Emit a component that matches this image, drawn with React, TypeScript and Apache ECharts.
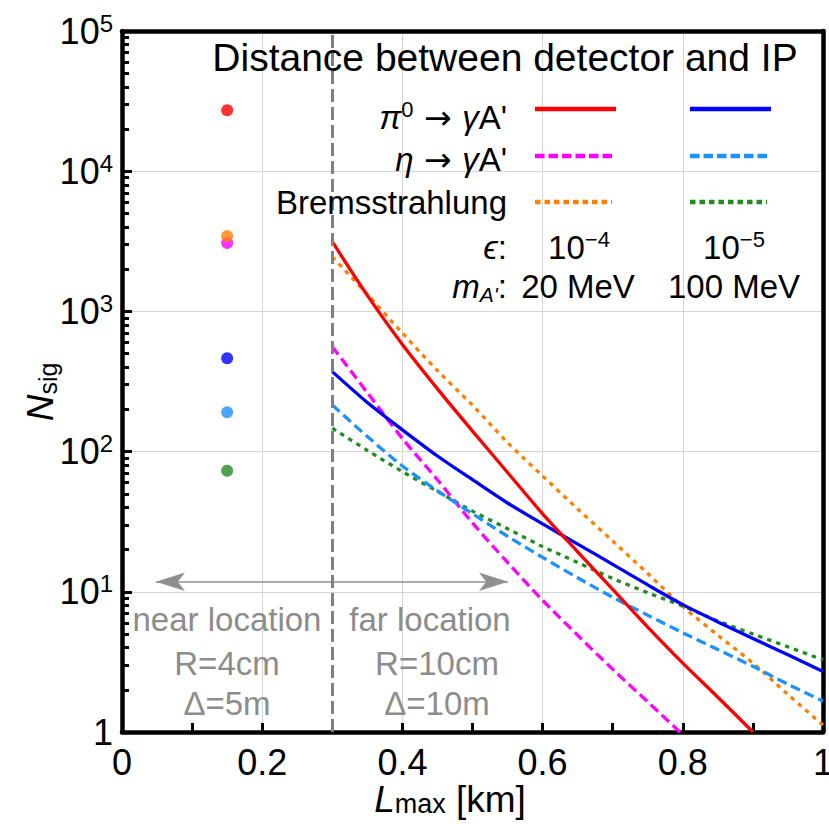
import React, { useEffect, useRef } from 'react';
import * as echarts from 'echarts';

const FONT = '"Liberation Sans", Arial, Helvetica, sans-serif';
const INK = '#000000';

// L_max [km] sample points for the far-location curves
const lMax = [0.3, 0.35, 0.4, 0.45, 0.5, 0.55, 0.6, 0.65, 0.7, 0.75, 0.8, 0.85, 0.9, 0.95, 1.0];
// m_A' = 20 MeV, eps = 1e-4
const pi0_20MeV = [3140, 1300, 580, 280, 140, 71, 36, 19.3, 10.4, 5.6, 3.1, 1.77, 1.0];
const eta_20MeV = [560, 263, 124, 63, 31, 16.2, 8.7, 4.9, 2.8, 1.64, 0.955];
const brems_20MeV = [2450, 1320, 700, 378, 214, 116, 67, 39, 23, 13.5, 7.85, 4.9, 3.1, 1.85, 1.12];
// m_A' = 100 MeV, eps = 1e-5
const pi0_100MeV = [372, 224, 143, 93, 63, 43, 30.5, 21.9, 15.7, 11.2, 8.1, 6.1, 4.65, 3.55, 2.7];
const eta_100MeV = [215, 128, 79, 52.5, 36, 24.9, 17.6, 12.6, 9.14, 6.8, 5.1, 3.87, 2.94, 2.19, 1.66];
const brems_100MeV = [147, 102, 72, 52, 37.6, 28.2, 21, 16.2, 12.45, 9.85, 7.9, 6.2, 5.0, 4.05, 3.27];

// near location points
const nearLmax = 0.15;
const nearNames = ['pi0 100MeV', 'eta 100MeV', 'brems 100MeV', 'pi0 20MeV', 'eta 20MeV', 'brems 20MeV'];
const nearValues = [463, 191, 73, 27200, 3070, 3445];

const C = {
  red: '#ff0000',
  blue: '#0000ff',
  magenta: '#ff00ff',
  lightBlue: '#1e90ff',
  orange: '#ff8000',
  green: '#228b22',
};
const nearColors = [C.blue, C.lightBlue, C.green, C.red, C.magenta, C.orange];

const DASH = [10, 5];
const DOT = [4.5, 5];

// minor log ticks 2..9 x 10^k
const minorTickValues: number[] = [];
for (let k = 0; k < 5; k++) for (let m = 2; m <= 9; m++) minorTickValues.push(m * Math.pow(10, k));
const MINOR_TICK_LEN = 0.01; // in L_max units

const GRAY = '#8c8c8c';
const frame = () => ({ show: true, onZero: false, lineStyle: { color: INK, width: 4.5 } });

function lineSeries(name: string, vals: number[], color: string, dash: any) {
  return {
    type: 'line',
    name,
    data: vals.map((v, i) => [lMax[i], v]),
    showSymbol: false,
    symbol: 'none',
    smooth: 0.3,
    clip: true,
    z: 4,
    lineStyle: { color, width: 3.3, type: dash, cap: 'butt' },
  };
}

function rtext(x: number, y: number, text: string, rich: any, extra: any = {}) {
  return {
    type: 'text',
    x,
    y,
    silent: true,
    z: 100,
    style: {
      text,
      fill: '#000',
      fontSize: 33,
      fontFamily: FONT,
      align: 'right',
      verticalAlign: 'middle',
      rich,
      ...extra,
    },
  };
}

const baseRich = {
  t: { fontSize: 33, fontFamily: FONT, fill: '#000', lineHeight: 38, verticalAlign: 'middle' },
  a: { fontSize: 33, fontFamily: '"DejaVu Sans", sans-serif', fill: '#000', lineHeight: 38, verticalAlign: 'middle' },
  i: { fontSize: 33, fontFamily: FONT, fill: '#000', fontStyle: 'italic', lineHeight: 38, verticalAlign: 'middle' },
  sup: { fontSize: 22, fontFamily: FONT, fill: '#000', lineHeight: 22, verticalAlign: 'top' },
  sub: { fontSize: 21, fontFamily: FONT, fill: '#000', fontStyle: 'italic', lineHeight: 21, verticalAlign: 'bottom' },
};

function legendLine(x1: number, x2: number, y: number, color: string, dash: any) {
  return {
    type: 'line',
    silent: true,
    z: 100,
    shape: { x1, y1: y, x2, y2: y },
    style: { stroke: color, lineWidth: 4.5, lineDash: dash, lineCap: 'butt' },
  };
}

export default function App() {
  const ref = useRef<HTMLDivElement>(null);
  useEffect(() => {
    if (!ref.current) return;
    const chart = echarts.init(ref.current, null, { renderer: 'svg' });
    const option: any = {
      animation: false,
      grid: { left: 122, right: 6, top: 31, bottom: 92, outerBoundsMode: 'none', containLabel: false },
      xAxis: [
        {
          type: 'value',
          min: 0,
          max: 1,
          interval: 0.2,
          position: 'bottom',
          axisLine: frame(),
          axisTick: { show: false },
          splitLine: { show: true, lineStyle: { color: '#d4d4d4', width: 1 } },
          axisLabel: {
            fontSize: 36,
            color: '#000',
            fontFamily: FONT,
            margin: 12,
            showMinLabel: true,
            showMaxLabel: true,
            formatter: (v: number) => {
              const s = String(Math.round(v * 10) / 10);
              return v >= 1 ? `{m|${s}}` : s;
            },
            rich: {
              m: { fontSize: 36, fontFamily: FONT, color: '#000', width: 12, align: 'center' },
            },
          },
        },
        {
          type: 'value',
          min: 0,
          max: 1,
          interval: 0.2,
          position: 'top',
          axisLine: frame(),
          axisTick: { show: false },
          axisLabel: { show: false },
          splitLine: { show: false },
        },
        {
          type: 'value',
          min: 0,
          max: 1,
          interval: 0.1,
          position: 'bottom',
          axisLine: { show: false, onZero: false },
          axisTick: { show: true, inside: true, length: 9, lineStyle: { color: INK, width: 3 } },
          axisLabel: { show: false },
          splitLine: { show: false },
        },
      ],
      yAxis: [
        {
          type: 'log',
          logBase: 10,
          min: 1,
          max: 100000,
          position: 'left',
          axisLine: frame(),
          axisTick: { show: true, inside: true, length: 10, lineStyle: { color: INK, width: 3 } },
          splitLine: { show: true, lineStyle: { color: '#d4d4d4', width: 1 } },
          axisLabel: {
            margin: 9,
            formatter: (v: number) => {
              const e = Math.round(Math.log10(v));
              return e === 0 ? '{b|1}' : `{b|10}{s|${e}}`;
            },
            rich: {
              b: { fontSize: 36, fontFamily: FONT, color: '#000', lineHeight: 40, verticalAlign: 'middle' },
              s: { fontSize: 24, fontFamily: FONT, color: '#000', lineHeight: 24, verticalAlign: 'top' },
            },
          },
        },
        {
          type: 'log',
          logBase: 10,
          min: 1,
          max: 100000,
          position: 'right',
          axisLine: frame(),
          axisTick: { show: false },
          axisLabel: { show: false },
          splitLine: { show: false },
        },
      ],
      series: [
        lineSeries('brems 20MeV', brems_20MeV, C.orange, DOT),
        lineSeries('brems 100MeV', brems_100MeV, C.green, DOT),
        lineSeries('eta 20MeV', eta_20MeV, C.magenta, DASH),
        lineSeries('eta 100MeV', eta_100MeV, C.lightBlue, DASH),
        {
          ...lineSeries('pi0 100MeV', pi0_100MeV, C.blue, 'solid'),
          markLine: {
            silent: true,
            symbol: 'none',
            label: { show: false },
            lineStyle: { color: INK, width: 3, type: 'solid', cap: 'butt' },
            data: minorTickValues.map((v) => [{ coord: [0, v] }, { coord: [MINOR_TICK_LEN, v] }]),
          },
        },
        {
          ...lineSeries('pi0 20MeV', pi0_20MeV, C.red, 'solid'),
          markLine: {
            silent: true,
            symbol: ['arrow', 'arrow'],
            symbolSize: [14, 29],
            label: { show: false },
            lineStyle: { color: '#8f8f8f', width: 1.6, type: 'solid' },
            data: [[{ coord: [0.0485, 11.8] }, { coord: [0.5506, 11.8] }]],
          },
        },
        {
          type: 'scatter',
          name: 'near location',
          symbolSize: 12,
          z: 5,
          data: nearValues.map((v, i) => ({ value: [nearLmax, v], name: nearNames[i], itemStyle: { color: nearColors[i] } })),
          markLine: {
            silent: true,
            symbol: 'none',
            label: { show: false },
            lineStyle: { color: '#808080', width: 3, type: [13, 5] },
            data: [{ xAxis: 0.3 }],
          },
        },
      ],
      graphic: [
        // title
        {
          type: 'text', x: 505, y: 57, silent: true, z: 100,
          style: { text: 'Distance between detector and IP', fontSize: 39, fontFamily: FONT, fill: '#000', align: 'center', verticalAlign: 'middle' },
        },
        rtext(507, 117, '{i|π}{sup|0}{a| → }{i|γ}{t|A\'}', baseRich),
        rtext(507, 159, '{i|η}{a| → }{i|γ}{t|A\'}', baseRich),
        rtext(507, 202, '{t|Bremsstrahlung}', baseRich),
        rtext(507, 247, '{i|ϵ}{t|:}', baseRich),
        rtext(579, 247, '{t|10}{sup|−4}', baseRich, { align: 'center' }),
        rtext(734, 247, '{t|10}{sup|−5}', baseRich, { align: 'center' }),
        rtext(507, 286, '{i|m}{sub|A\'}{t|:}', baseRich),
        rtext(578, 286, '{t|20 MeV}', baseRich, { align: 'center' }),
        rtext(734, 286, '{t|100 MeV}', baseRich, { align: 'center' }),
        legendLine(535, 616, 109, C.red, null),
        legendLine(690, 771, 109, C.blue, null),
        legendLine(535, 612, 156, C.magenta, [9.5, 4]),
        legendLine(690, 767, 156, C.lightBlue, [9.5, 4]),
        legendLine(535, 612, 202, C.orange, [5.5, 4]),
        legendLine(690, 767, 202, C.green, [5.5, 4]),
        // location annotations
        rtext(227, 619, 'near location', null, { align: 'center', fill: GRAY }),
        rtext(227, 663, 'R=4cm', null, { align: 'center', fill: GRAY }),
        rtext(227, 703, 'Δ=5m', null, { align: 'center', fill: GRAY }),
        rtext(430, 619, 'far location', null, { align: 'center', fill: GRAY }),
        rtext(437, 663, 'R=10cm', null, { align: 'center', fill: GRAY }),
        rtext(437, 703, 'Δ=10m', null, { align: 'center', fill: GRAY }),
        // axis names
        rtext(450, 799, '{i|L}{sub|max}{t| [km]}', {
          t: { fontSize: 37, fontFamily: FONT, fill: '#000', lineHeight: 36, verticalAlign: 'middle' },
          i: { fontSize: 37, fontFamily: FONT, fill: '#000', fontStyle: 'italic', lineHeight: 36, verticalAlign: 'middle' },
          sub: { fontSize: 27, fontFamily: FONT, fill: '#000', lineHeight: 27, verticalAlign: 'bottom' },
        }, { align: 'center' }),
        {
          ...rtext(40, 392, '{i|N}{sub|sig}', {
            i: { fontSize: 37, fontFamily: FONT, fill: '#000', fontStyle: 'italic', lineHeight: 40, verticalAlign: 'middle' },
            sub: { fontSize: 25, fontFamily: FONT, fill: '#000', lineHeight: 25, verticalAlign: 'bottom' },
          }, { align: 'center' }),
          rotation: Math.PI / 2,
        },
      ],
    };
    chart.setOption(option);
    return () => chart.dispose();
  }, []);
  return <div ref={ref} style={{ width: 829, height: 824, position: 'absolute', left: 0, top: 0, background: '#fff' }} />;
}
